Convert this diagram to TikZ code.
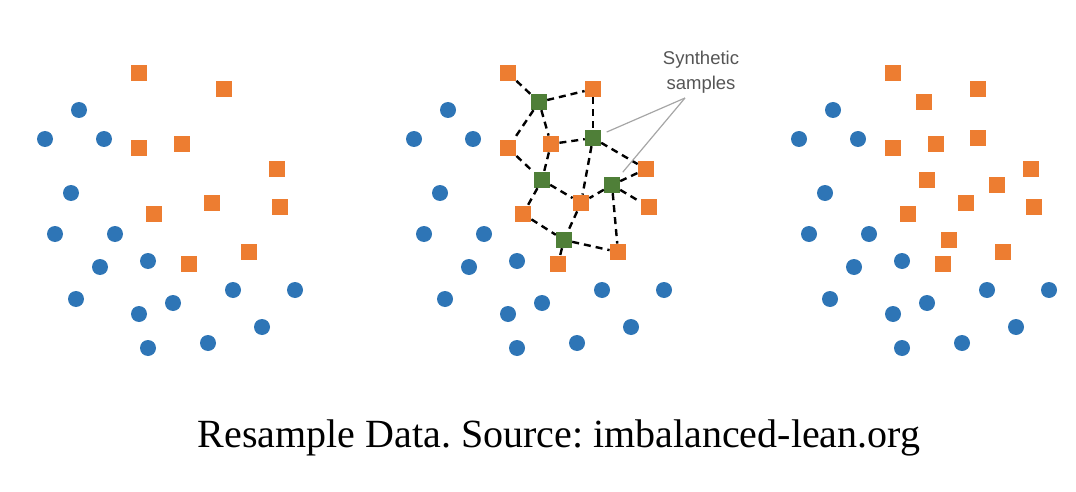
\documentclass[tikz,border=0pt]{standalone}
\usepackage{fontspec}
\setmainfont{Liberation Serif}
\newfontfamily\calloutfont{Liberation Sans}
\frenchspacing

\definecolor{dotblue}{HTML}{2E75B6}
\definecolor{dotorange}{HTML}{ED7D31}
\definecolor{dotgreen}{HTML}{4F7F38}
\definecolor{calloutgray}{HTML}{555555}

% point positions of the left panel, in pixels
\newcommand{\bluepts}{79/110, 45/139, 104/139, 71/193, 55/234, 115/234, 100/267, 148/261,
    76/299, 139/314, 173/303, 233/290, 295/290, 262/327, 208/343, 148/348}
\newcommand{\orangepts}{139/73, 224/89, 139/148, 182/144, 277/169, 280/207, 212/203,
    154/214, 249/252, 189/264}
\newcommand{\synthpts}{170/102, 224/138, 173/180, 243/185, 195/240}

\begin{document}
\begin{tikzpicture}[
        x=0.5pt, y=-0.5pt,
        majority/.style={circle,fill=dotblue,minimum size=8pt,inner sep=0pt},
        minority/.style={rectangle,fill=dotorange,minimum size=8pt,inner sep=0pt},
        synthetic/.style={rectangle,fill=dotgreen,minimum size=7.8pt,inner sep=0pt},
        link/.style={line width=1.2pt,dash pattern=on 3.5pt off 2.5pt},
        pointer/.style={draw=gray!70,line width=0.6pt,shorten >=3pt},
        callout/.style={align=center,text=calloutgray,
            font=\calloutfont\fontsize{9.25pt}{12.5pt}\selectfont},
        description/.style={font=\fontsize{20pt}{24pt}\selectfont}
    ]

    \useasboundingbox (0,0) rectangle (1076,492);

    % the three panels
    \foreach \p/\dx in {l/0, m/369, r/754} {
        \foreach \x/\y [count=\i] in \bluepts
            \node[majority] (\p b\i) at (\dx+\x,\y) {};
        \foreach \x/\y [count=\i] in \orangepts
            \node[minority] (\p o\i) at (\dx+\x,\y) {};
    }

    % new samples: green in the middle, orange on the right
    \foreach \x/\y [count=\i] in \synthpts {
        \node[synthetic] (ms\i) at (369+\x,\y) {};
        \node[minority] (rs\i) at (754+\x,\y) {};
    }

    % interpolation lines
    \foreach \a/\b in {o1/s1, s1/o2, s1/o3, s1/o4, o2/s2, o4/s2, s2/o5, s2/o7,
            o3/s3, o4/s3, s3/o7, s3/o8, s4/o5, s4/o6, s4/o7, s4/o9,
            o8/s5, o7/s5, s5/o9, s5/o10}
        \draw[link] (m\a) -- (m\b);

    \node[callout] (syn) at (701,72) {Synthetic\\samples};
    \coordinate (tip) at (685,98);
    \draw[pointer] (tip) -- (ms2);
    \draw[pointer] (tip) -- (ms4);

    \node[description,anchor=base] (caption) at (559,447)
        {Resample Data. Source: imbalanced-lean.org};

\end{tikzpicture}
\end{document}
